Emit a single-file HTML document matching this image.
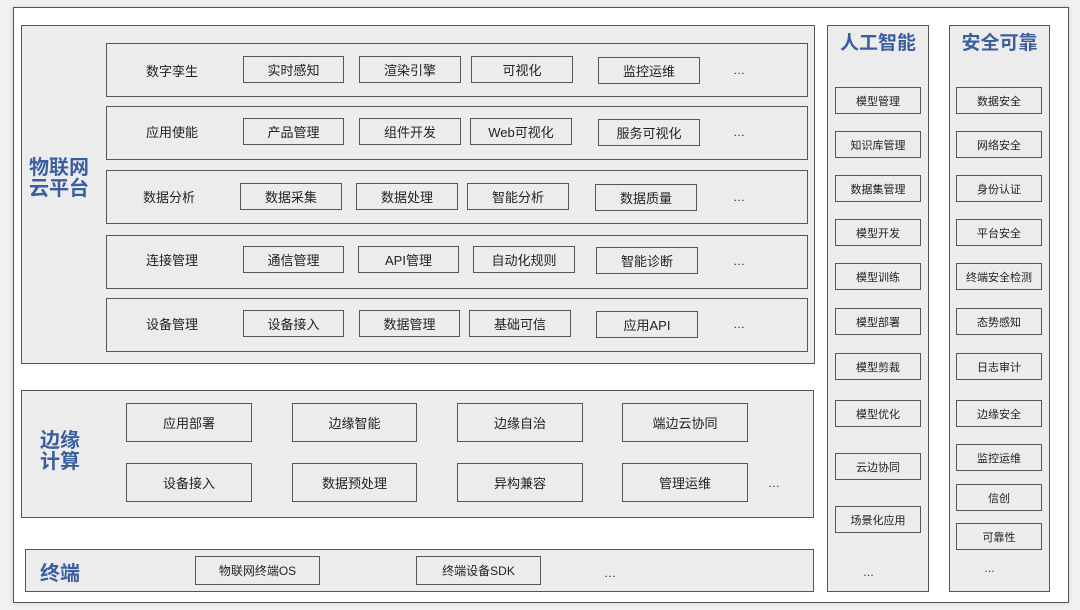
<!DOCTYPE html>
<html><head><meta charset="utf-8"><style>
*{margin:0;padding:0;box-sizing:border-box}
body{width:1080px;height:610px;background:#f1f1f1;position:relative;overflow:hidden;font-family:"Liberation Sans","Noto Sans CJK SC",sans-serif;color:#222}
div{position:absolute}
.frame{left:13px;top:7px;width:1056px;height:596px;background:#fff;border:1px solid #555;box-shadow:0 0 4px rgba(0,0,0,.15)}
.g{background:#ececec;border:1px solid #555}
.row{left:106px;width:702px;height:54px;background:#ececec;border:1px solid #555}
.b{border:1px solid #555;background:#ececec;display:flex;align-items:center;justify-content:center;font-size:13px;height:27px}
.lbl{font-size:13px;display:flex;align-items:center;justify-content:center;width:80px}
.blue{color:#3b5e9f;font-weight:bold;font-size:20px;line-height:21px}
.c{width:86px;height:27px;font-size:11px}
.d{font-size:12px}
</style></head><body>
<div class="frame"></div>
<div class="g" style="left:21px;top:25px;width:794px;height:339px"></div>
<div class="blue" style="left:29px;top:158px;width:62px">物联网<br>云平台</div>

<div class="row" style="top:43px"></div>
<div class="lbl" style="left:132px;top:57px;height:27px">数字孪生</div>
<div class="b" style="left:243px;top:56px;width:101px">实时感知</div>
<div class="b" style="left:359px;top:56px;width:102px">渲染引擎</div>
<div class="b" style="left:471px;top:56px;width:102px">可视化</div>
<div class="b" style="left:598px;top:57px;width:102px">监控运维</div>
<div class="d" style="left:733px;top:63px">…</div>

<div class="row" style="top:106px"></div>
<div class="lbl" style="left:132px;top:118px;height:27px">应用使能</div>
<div class="b" style="left:243px;top:118px;width:101px">产品管理</div>
<div class="b" style="left:359px;top:118px;width:102px">组件开发</div>
<div class="b" style="left:470px;top:118px;width:102px">Web可视化</div>
<div class="b" style="left:598px;top:119px;width:102px">服务可视化</div>
<div class="d" style="left:733px;top:125px">…</div>

<div class="row" style="top:170px"></div>
<div class="lbl" style="left:129px;top:183px;height:27px">数据分析</div>
<div class="b" style="left:240px;top:183px;width:102px">数据采集</div>
<div class="b" style="left:356px;top:183px;width:102px">数据处理</div>
<div class="b" style="left:467px;top:183px;width:102px">智能分析</div>
<div class="b" style="left:595px;top:184px;width:102px">数据质量</div>
<div class="d" style="left:733px;top:190px">…</div>

<div class="row" style="top:235px"></div>
<div class="lbl" style="left:132px;top:246px;height:27px">连接管理</div>
<div class="b" style="left:243px;top:246px;width:101px">通信管理</div>
<div class="b" style="left:358px;top:246px;width:101px">API管理</div>
<div class="b" style="left:473px;top:246px;width:102px">自动化规则</div>
<div class="b" style="left:596px;top:247px;width:102px">智能诊断</div>
<div class="d" style="left:733px;top:254px">…</div>

<div class="row" style="top:298px"></div>
<div class="lbl" style="left:132px;top:310px;height:27px">设备管理</div>
<div class="b" style="left:243px;top:310px;width:101px">设备接入</div>
<div class="b" style="left:359px;top:310px;width:101px">数据管理</div>
<div class="b" style="left:469px;top:310px;width:102px">基础可信</div>
<div class="b" style="left:596px;top:311px;width:102px">应用API</div>
<div class="d" style="left:733px;top:317px">…</div>

<div class="g" style="left:21px;top:390px;width:793px;height:128px"></div>
<div class="blue" style="left:40px;top:431px;width:44px">边缘<br>计算</div>
<div class="b" style="left:126px;top:403px;width:126px;height:39px">应用部署</div>
<div class="b" style="left:292px;top:403px;width:125px;height:39px">边缘智能</div>
<div class="b" style="left:457px;top:403px;width:126px;height:39px">边缘自治</div>
<div class="b" style="left:622px;top:403px;width:126px;height:39px">端边云协同</div>
<div class="b" style="left:126px;top:463px;width:126px;height:39px">设备接入</div>
<div class="b" style="left:292px;top:463px;width:125px;height:39px">数据预处理</div>
<div class="b" style="left:457px;top:463px;width:126px;height:39px">异构兼容</div>
<div class="b" style="left:622px;top:463px;width:126px;height:39px">管理运维</div>
<div class="d" style="left:768px;top:476px">…</div>

<div class="g" style="left:25px;top:549px;width:789px;height:43px"></div>
<div class="blue" style="left:40px;top:564px;width:44px">终端</div>
<div class="b" style="left:195px;top:556px;width:125px;height:29px;font-size:12px">物联网终端OS</div>
<div class="b" style="left:416px;top:556px;width:125px;height:29px;font-size:12px">终端设备SDK</div>
<div class="d" style="left:604px;top:566px">…</div>

<div class="g" style="left:827px;top:25px;width:102px;height:567px"></div>
<div class="blue" style="left:827px;top:33px;width:102px;text-align:center;font-size:19px">人工智能</div>
<div class="b c" style="left:835px;top:87px">模型管理</div>
<div class="b c" style="left:835px;top:131px">知识库管理</div>
<div class="b c" style="left:835px;top:175px">数据集管理</div>
<div class="b c" style="left:835px;top:219px">模型开发</div>
<div class="b c" style="left:835px;top:263px">模型训练</div>
<div class="b c" style="left:835px;top:308px">模型部署</div>
<div class="b c" style="left:835px;top:353px">模型剪裁</div>
<div class="b c" style="left:835px;top:400px">模型优化</div>
<div class="b c" style="left:835px;top:453px">云边协同</div>
<div class="b c" style="left:835px;top:506px">场景化应用</div>
<div class="d" style="left:863px;top:567px;font-size:11px">…</div>

<div class="g" style="left:949px;top:25px;width:101px;height:567px"></div>
<div class="blue" style="left:949px;top:33px;width:101px;text-align:center;font-size:19px">安全可靠</div>
<div class="b c" style="left:956px;top:87px">数据安全</div>
<div class="b c" style="left:956px;top:131px">网络安全</div>
<div class="b c" style="left:956px;top:175px">身份认证</div>
<div class="b c" style="left:956px;top:219px">平台安全</div>
<div class="b c" style="left:956px;top:263px">终端安全检测</div>
<div class="b c" style="left:956px;top:308px">态势感知</div>
<div class="b c" style="left:956px;top:353px">日志审计</div>
<div class="b c" style="left:956px;top:400px">边缘安全</div>
<div class="b c" style="left:956px;top:444px">监控运维</div>
<div class="b c" style="left:956px;top:484px">信创</div>
<div class="b c" style="left:956px;top:523px">可靠性</div>
<div class="d" style="left:984px;top:563px;font-size:11px">…</div>
</body></html>
